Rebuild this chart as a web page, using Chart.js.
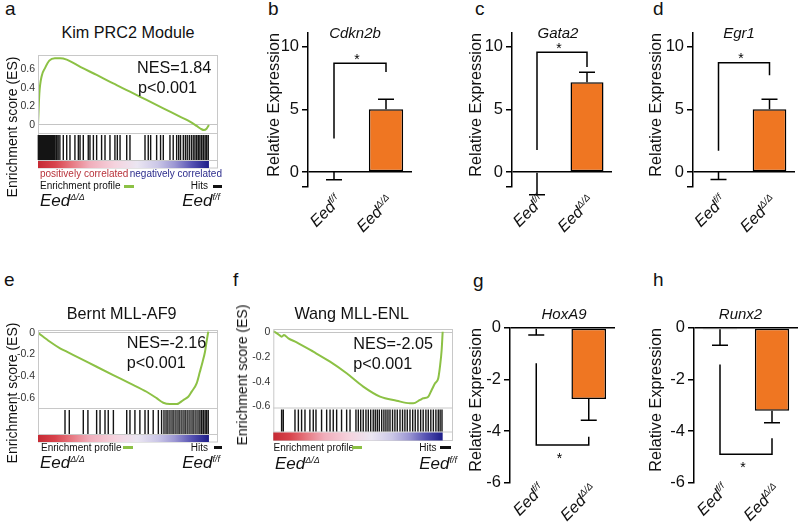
<!DOCTYPE html>
<html>
<head>
<meta charset="utf-8">
<script src="https://cdn.jsdelivr.net/npm/chart.js@4.4.1/dist/chart.umd.min.js"></script>
<style>
  body { margin: 0; background: #fff; }
  #fig { position: relative; width: 800px; height: 525px; overflow: hidden; font-family: 'Liberation Sans', Arial, sans-serif; color: #111; }
  #fig canvas { position: absolute; }
  .t { position: absolute; white-space: nowrap; line-height: 1; }
  .t sup { font-size: 9px; vertical-align: baseline; position: relative; top: -6px; }
  .dash { position: absolute; height: 3px; }
</style>
</head>
<body>
<div id="fig"></div>
<script>
// ---- values ----

// GSEA running enrichment score: rank position (% of ranked list) and ES
const rankA = [0, 0.8, 2.1, 4.1, 6.6, 9.9, 12.9, 16.8, 25, 34.3, 44, 53.8, 63.5, 73.3, 83, 88.9, 92.8, 95.7, 97.1, 98.6, 100];
const esA = [0, 0.34, 0.52, 0.61, 0.69, 0.715, 0.715, 0.70, 0.62, 0.536, 0.445, 0.357, 0.268, 0.179, 0.089, 0.036, -0.01, -0.046, -0.054, -0.04, 0];
const hitsA = [0.2, 0.6, 1.0, 1.5, 2.0, 2.6, 3.1, 3.7, 4.3, 5.0, 5.6, 6.2, 6.9, 7.6, 8.4, 9.2, 10.0, 10.9, 11.8, 12.8,
  14.8, 16.8, 18.7, 21.6, 23.6, 24.6, 26.5, 29.4, 30.4, 32.4, 34.3, 37.2, 39.2, 42.1, 45.0, 46.4, 48.0, 51.9, 53.8,
  62.6, 64.5, 65.9, 69.4, 71.7, 73.3, 77.2, 79.1, 81.1, 82.3, 83.4, 85.0, 86.2, 87.3, 88.5, 89.7, 90.8, 91.8, 92.8,
  93.8, 94.7, 95.7, 96.7, 97.7, 98.6, 99.6];

const rankE = [0, 7.0, 12.9, 16.8, 24.6, 34.3, 44, 53.8, 63.5, 69.4, 73.3, 77.2, 81.1, 85, 87.9, 89.9, 92.8, 94.7, 96.3, 97.7, 98.6, 99.6];
const esE = [0, -0.083, -0.143, -0.174, -0.235, -0.312, -0.388, -0.464, -0.541, -0.60, -0.642, -0.654, -0.654, -0.617, -0.587, -0.54, -0.464, -0.358, -0.266, -0.174, -0.083, 0.01];
const hitsE = [15.8, 18.3, 26.5, 29.2, 34.3, 36.3, 39.2, 41.1, 44.1, 51.9, 53.8, 56.7, 59.6, 62.6, 64.5, 67.4, 70.4, 72.3,
  73.7, 74.9, 76.0, 77.2, 78.4, 79.5, 80.7, 81.9, 83.0, 84.2, 85.4, 86.5, 87.7, 88.9, 90.1, 91.2, 92.4, 93.6, 94.7,
  95.7, 96.7, 97.7, 98.6, 99.6];

const rankF = [0, 3.0, 5.0, 6.3, 8.9, 13.8, 23.6, 33.5, 43.3, 53.1, 63.0, 72.8, 80.7, 82.6, 86.6, 88.5, 91.5, 93.5, 95.5, 97.4, 98.4, 99.4, 100];
const esF = [0.01, -0.016, -0.035, -0.022, -0.049, -0.081, -0.157, -0.238, -0.332, -0.44, -0.521, -0.554, -0.575, -0.575, -0.548, -0.534, -0.521, -0.467, -0.413, -0.372, -0.278, -0.143, 0.005];
const hitsF = [4.9, 5.9, 12.8, 14.8, 16.7, 18.7, 21.6, 23.6, 25.2, 28.5, 31.5, 33.5, 35.4, 37.4, 40.3, 43.3, 45.3, 48.8,
  50.2, 51.6, 53.1, 54.7, 56.1, 57.5, 59.0, 60.2, 61.4, 62.6, 64.0, 65.3, 66.5, 67.7, 68.9, 70.4, 71.8, 73.2, 74.8,
  76.3, 77.7, 79.1, 80.7, 82.3, 83.8, 85.4, 87.0, 88.5, 90.1, 91.5, 93.0, 94.5, 96.0, 97.4, 98.5, 99.6];

const esTicksUp = [0, 0.2, 0.4, 0.6];
const esTicksDown = [0, -0.2, -0.4, -0.6];

// qPCR bars: genotype groups, mean, error-bar tip, significance bracket [left end, bar level, right end]
const genotype = 'Eed';
const alleles = ['f/f', 'Δ/Δ'];
const cdkn2b = [0, 5.0];       const cdkn2bTip = [-0.63, 5.8];  const cdkn2bSig = [2.68, 8.68, 7.97];
const gata2 = [-0.06, 7.17];   const gata2Tip = [-1.82, 7.96];  const gata2Sig = [1.75, 9.56, 8.37];
const egr1 = [0, 5.0];         const egr1Tip = [-0.6, 5.8];     const egr1Sig = [1.70, 8.71, 7.71];
const hoxa9 = [-0.03, -2.76];  const hoxa9Tip = [-0.28, -3.58]; const hoxa9Sig = [-1.37, -4.54, -4.22];
const runx2 = [-0.05, -3.21];  const runx2Tip = [-0.67, -3.68]; const runx2Sig = [-1.42, -4.90, -4.28];
const upTicks = [0, 5, 10];
const downTicks = [0, -2, -4, -6];

// ---- styles ----
const FONT = "'Liberation Sans', Arial, sans-serif";
const ORANGE = '#ef7622';
const GREEN = '#8cc145';
const RANK_STOPS = [[0, '#c62a34'], [0.1, '#d8434c'], [0.2, '#e77a83'], [0.3, '#f0adba'], [0.45, '#f5d3de'],
  [0.58, '#ebe6f2'], [0.7, '#cbc7e7'], [0.8, '#9c97d3'], [0.9, '#5652b3'], [1, '#1c1c88']];

Chart.defaults.font.family = FONT;
Chart.defaults.color = '#111';
Chart.defaults.animation = false;
Chart.defaults.plugins.legend.display = false;
Chart.defaults.plugins.tooltip.enabled = false;

const fig = document.getElementById('fig');

function makeCanvas(left, top, w, h) {
  const c = document.createElement('canvas');
  c.width = w; c.height = h;
  c.style.left = left + 'px'; c.style.top = top + 'px';
  c.style.width = w + 'px'; c.style.height = h + 'px';
  fig.appendChild(c);
  return c;
}

// text centred vertically on cy
function put(html, x, cy, o = {}) {
  const d = document.createElement('div');
  const size = o.size || 16;
  d.className = 't';
  d.innerHTML = html;
  d.style.fontSize = size + 'px';
  if (o.italic) d.style.fontStyle = 'italic';
  if (o.color) d.style.color = o.color;
  d.style.left = x + 'px';
  d.style.top = cy + 'px';
  const ax = o.align === 'center' ? '-50%' : o.align === 'right' ? '-100%' : '0';
  d.style.transform = o.rotate ? `translate(-50%, -50%) rotate(${o.rotate}deg)` : `translate(${ax}, -50%)`;
  fig.appendChild(d);
}

function dash(x0, x1, cy, color) {
  const d = document.createElement('div');
  d.className = 'dash';
  d.style.left = x0 + 'px'; d.style.width = (x1 - x0) + 'px';
  d.style.top = (cy - 1.5) + 'px'; d.style.background = color;
  fig.appendChild(d);
}

// ---- GSEA panels ----
const gseaExtras = p => ({
  id: 'gseaExtras',
  afterDraw(chart) {
    const { ctx, chartArea: a, scales: { x } } = chart;
    const h0 = a.bottom, h1 = h0 + p.hitsH, g1 = h1 + p.gradH;
    const xs = x.getPixelForValue(0), xe = x.getPixelForValue(100);
    ctx.save();
    ctx.strokeStyle = '#c8c8c8';
    ctx.lineWidth = 1;
    ctx.beginPath();
    ctx.moveTo(a.left, h0 + 0.5); ctx.lineTo(a.right, h0 + 0.5);
    ctx.moveTo(a.left, h1 + 0.5); ctx.lineTo(a.right, h1 + 0.5);
    ctx.stroke();
    ctx.strokeRect(a.left + 0.5, a.top + 0.5, a.width - 1, g1 - a.top + 0.5);

    // hit positions in the ranked list
    ctx.strokeStyle = '#141414';
    ctx.lineWidth = 1.4;
    ctx.beginPath();
    p.hits.forEach(h => {
      const px = x.getPixelForValue(h);
      ctx.moveTo(px, h0 + 2); ctx.lineTo(px, h1);
    });
    ctx.stroke();

    const grad = ctx.createLinearGradient(xs, 0, xe, 0);
    RANK_STOPS.forEach(([o, c]) => grad.addColorStop(o, c));
    ctx.fillStyle = grad;
    ctx.fillRect(xs, h1 + 1, xe - xs, p.gradH);
    ctx.restore();
  }
});

function gseaPanel(p) {
  const cv = makeCanvas(p.left, p.top, p.width, p.height);
  new Chart(cv, {
    type: 'line',
    data: {
      datasets: [{
        data: p.rank.map((r, i) => ({ x: r, y: p.es[i] })),
        borderColor: GREEN, borderWidth: 2, pointRadius: 0,
        cubicInterpolationMode: 'monotone', fill: false
      }]
    },
    options: {
      responsive: false,
      layout: { padding: { left: 0, top: p.area.top - p.top, right: p.left + p.width - p.area.right, bottom: p.top + p.height - p.area.bottom } },
      scales: {
        x: { type: 'linear', display: false, min: 0, max: p.xMax },
        y: {
          min: p.min, max: p.max,
          afterFit: s => { s.width = p.area.left - p.left; },
          afterBuildTicks: s => { s.ticks = p.ticks.map(v => ({ value: v })); },
          ticks: { font: { size: 10.5 }, color: '#333', padding: 3, callback: v => (v === 0 ? '0' : v.toFixed(1)) },
          grid: { drawTicks: false, lineWidth: 1, color: c => (c.tick && c.tick.value === 0 ? '#c4c4c4' : 'rgba(0,0,0,0)') },
          border: { display: false }
        }
      }
    },
    plugins: [gseaExtras(p)]
  });
}

gseaPanel({ left: 0, top: 45, width: 225, height: 130, area: { left: 38, right: 218, top: 55, bottom: 133 },
  min: -0.086, max: 0.75, xMax: 105.3, ticks: esTicksUp, rank: rankA, es: esA, hits: hitsA, hitsH: 27, gradH: 7 });
gseaPanel({ left: 0, top: 320, width: 225, height: 130, area: { left: 38, right: 218, top: 330, bottom: 408 },
  min: -0.69, max: 0.025, xMax: 105.3, ticks: esTicksDown, rank: rankE, es: esE, hits: hitsE, hitsH: 26, gradH: 7 });
gseaPanel({ left: 230, top: 319, width: 228, height: 131, area: { left: 273.3, right: 453, top: 329, bottom: 407.5 },
  min: -0.609, max: 0.027, xMax: 106.1, ticks: esTicksDown, rank: rankF, es: esF, hits: hitsF, hitsH: 24, gradH: 8 });

// ---- qPCR bar panels ----
const barExtras = p => ({
  id: 'barExtras',
  afterDatasetsDraw(chart) {
    const { ctx, scales: { y } } = chart;
    const bars = chart.getDatasetMeta(0).data;
    ctx.save();
    ctx.strokeStyle = '#000';
    ctx.lineWidth = 1.5;
    ctx.beginPath();
    bars.forEach((b, i) => {
      const y0 = y.getPixelForValue(p.values[i]), y1 = y.getPixelForValue(p.tips[i]);
      ctx.moveTo(b.x, y0); ctx.lineTo(b.x, y1);
      ctx.moveTo(b.x - 8, y1); ctx.lineTo(b.x + 8, y1);
    });
    const [s0, lvl, s1] = p.sig;
    const x0 = bars[0].x, x1 = bars[1].x, yl = y.getPixelForValue(lvl);
    ctx.moveTo(x0, y.getPixelForValue(s0)); ctx.lineTo(x0, yl);
    ctx.lineTo(x1, yl); ctx.lineTo(x1, y.getPixelForValue(s1));
    ctx.stroke();

    ctx.fillStyle = '#000';
    ctx.font = '14px ' + FONT;
    ctx.textAlign = 'center';
    const above = lvl > s0;
    ctx.fillText('*', (x0 + x1) / 2 - 3, above ? yl + 0.5 : yl + 18);
    ctx.restore();
  },
  afterDraw(chart) {
    const { ctx, chartArea } = chart;
    const bars = chart.getDatasetMeta(0).data;
    bars.forEach((b, i) => {
      ctx.save();
      ctx.translate(b.x + p.lab[0], chartArea.bottom + p.lab[1]);
      ctx.rotate(-Math.PI / 4);
      ctx.fillStyle = '#111';
      ctx.textAlign = 'left';
      ctx.font = 'italic 16px ' + FONT;
      const w1 = ctx.measureText(genotype).width;
      ctx.font = 'italic 9.5px ' + FONT;
      const w2 = ctx.measureText(alleles[i]).width;
      ctx.font = 'italic 16px ' + FONT;
      ctx.fillText(genotype, -(w1 + w2), 0);
      ctx.font = 'italic 9.5px ' + FONT;
      ctx.fillText(alleles[i], -w2, -6);
      ctx.restore();
    });
  }
});

function barPanel(p) {
  const cv = makeCanvas(p.left, p.top, p.width, p.height);
  const tickVals = [...new Set([p.min, ...p.ticks])];
  new Chart(cv, {
    type: 'bar',
    data: {
      labels: alleles.map(a => genotype + a),
      datasets: [{
        data: p.values, backgroundColor: ORANGE, borderColor: '#000', borderWidth: 1.5,
        borderSkipped: false, barPercentage: 0.66, categoryPercentage: 1
      }]
    },
    options: {
      responsive: false,
      layout: { padding: { left: 0, top: p.area.top - p.top, right: p.left + p.width - p.area.right, bottom: p.top + p.height - p.area.bottom } },
      scales: {
        x: { display: false },
        y: {
          min: p.min, max: p.max,
          afterFit: s => { s.width = p.area.left - p.left; },
          afterBuildTicks: s => { s.ticks = tickVals.map(v => ({ value: v })); },
          ticks: { font: { size: 16.5 }, color: '#111', padding: 3, callback: v => (p.ticks.includes(v) ? String(v) : '') },
          grid: {
            lineWidth: 1.5, tickColor: '#000', tickWidth: 1.5, tickLength: 6,
            color: c => (c.tick && c.tick.value === 0 ? '#000' : 'rgba(0,0,0,0)')
          },
          border: { display: true, color: '#000', width: 1.5 },
          title: { display: true, text: 'Relative Expression', align: 'end', font: { size: 16.3 }, color: '#111', padding: { top: 3, bottom: 0 } }
        }
      }
    },
    plugins: [barExtras(p)]
  });
}

const topRow = { top: 20, height: 240, min: -1.2, max: 11.1, ticks: upTicks, lab: [8, 15] };
const botRow = { top: 315, height: 210, min: -6, max: 0, ticks: downTicks, lab: [9, 8] };

barPanel({ ...topRow, left: 262, width: 154, area: { left: 308, right: 412, top: 32, bottom: 187 }, values: cdkn2b, tips: cdkn2bTip, sig: cdkn2bSig });
barPanel({ ...topRow, left: 464, width: 152, area: { left: 512, right: 612, top: 32, bottom: 187 }, values: gata2, tips: gata2Tip, sig: gata2Sig });
barPanel({ ...topRow, left: 644, width: 155, area: { left: 693, right: 795, top: 32, bottom: 187 }, values: egr1, tips: egr1Tip, sig: egr1Sig });
barPanel({ ...botRow, left: 464, width: 155, area: { left: 510, right: 615, top: 327.7, bottom: 482.7 }, values: hoxa9, tips: hoxa9Tip, sig: hoxa9Sig });
barPanel({ ...botRow, left: 644, width: 156, area: { left: 694, right: 798, top: 327.7, bottom: 482.7 }, values: runx2, tips: runx2Tip, sig: runx2Sig });

// ---- text ----
[['a', 5, 8], ['b', 268, 7.5], ['c', 475, 8], ['d', 653, 7.5], ['e', 4, 279], ['f', 233, 279], ['g', 473, 280], ['h', 653, 279]]
  .forEach(([l, x, y]) => put(l, x, y, { size: 19 }));

put('Kim PRC2 Module', 128, 32, { size: 16.2, align: 'center' });
put('Bernt MLL-AF9', 121.7, 313.3, { size: 16.2, align: 'center' });
put('Wang MLL-ENL', 351.7, 313.3, { size: 16.2, align: 'center' });

put('NES=1.84', 137, 66.7, { size: 16.2 });
put('p&lt;0.001', 138, 86.7, { size: 16.2 });
put('NES=-2.16', 126.7, 341.7, { size: 16.2 });
put('p&lt;0.001', 126.7, 362, { size: 16.2 });
put('NES=-2.05', 353.3, 343.3, { size: 16.2 });
put('p&lt;0.001', 353.3, 362.7, { size: 16.2 });

put('Enrichment score (ES)', 12, 127, { size: 14, rotate: -90 });
put('Enrichment score (ES)', 12, 393, { size: 14, rotate: -90 });
put('Enrichment score (ES)', 242, 375, { size: 14, rotate: -90 });

put('positively correlated', 40, 174, { size: 10, color: '#b8323a' });
put('negatively correlated', 222, 174, { size: 10, color: '#2c2c8c', align: 'right' });

[[40, 186, 124, 208, 213, 222], [41, 447.7, 123, 208, 214, 222], [273.5, 447.7, 352, 436.5, 440, 451]]
  .forEach(([x, y, gx, hx, kx0, kx1]) => {
    put('Enrichment profile', x, y, { size: 10 });
    dash(gx, gx + 10, y, GREEN);
    put('Hits', hx, y, { size: 10, align: 'right' });
    dash(kx0, kx1, y, '#111');
  });

[[40, 220, 200], [40, 220, 462.3], [275, 457, 463]].forEach(([xl, xr, y]) => {
  put('Eed<sup>Δ/Δ</sup>', xl, y, { size: 17, italic: true });
  put('Eed<sup>f/f</sup>', xr, y, { size: 17, italic: true, align: 'right' });
});

put('Cdkn2b', 355, 32, { size: 15, italic: true, align: 'center' });
put('Gata2', 558, 32, { size: 15, italic: true, align: 'center' });
put('Egr1', 739, 32, { size: 15, italic: true, align: 'center' });
put('HoxA9', 564, 313.3, { size: 15, italic: true, align: 'center' });
put('Runx2', 740.5, 313.3, { size: 15, italic: true, align: 'center' });
</script>
</body>
</html>
